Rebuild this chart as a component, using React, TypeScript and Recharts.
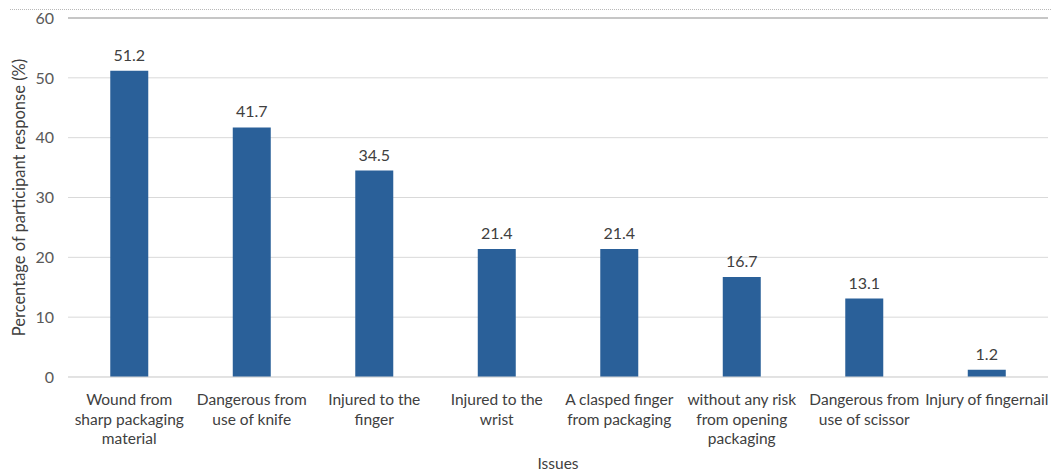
import { BarChart, Bar, XAxis, YAxis, CartesianGrid, LabelList, Label, ReferenceLine } from "recharts";

// Reported packaging-opening issues, % of participants
const issues = [
  "Wound from sharp packaging material",
  "Dangerous from use of knife",
  "Injured to the finger",
  "Injured to the wrist",
  "A clasped finger from packaging",
  "without any risk from opening packaging",
  "Dangerous from use of scissor",
  "Injury of fingernail",
];
const percentages = [51.2, 41.7, 34.5, 21.4, 21.4, 16.7, 13.1, 1.2];
// how each category name wraps under the axis
const tickLines = [
  ["Wound from", "sharp packaging", "material"],
  ["Dangerous from", "use of knife"],
  ["Injured to the", "finger"],
  ["Injured to the", "wrist"],
  ["A clasped finger", "from packaging"],
  ["without any risk", "from opening", "packaging"],
  ["Dangerous from", "use of scissor"],
  ["Injury of fingernail"],
];
const yTicks = [0, 10, 20, 30, 40, 50, 60];
const yMax = 60;

const data = issues.map((issue, i) => ({ issue, pct: percentages[i] }));

const FONT = "Lato, 'Open Sans', sans-serif";

function IssueTick({ x, y, payload }: { x?: number; y?: number; payload?: { index: number } }) {
  const lines = tickLines[payload?.index ?? 0] ?? [];
  return (
    <text x={x} y={y} textAnchor="middle" fill="#404040" fontSize={15.5} fontFamily={FONT}>
      {lines.map((ln, i) => (
        <tspan key={i} x={x} dy={i === 0 ? 20 : 19.5}>
          {ln}
        </tspan>
      ))}
    </text>
  );
}

export default function App() {
  return (
    <div style={{ position: "absolute", left: 0, top: 0, width: 1051, height: 472, background: "#fff" }}>
      <div
        style={{
          position: "absolute",
          left: 10,
          top: 9,
          width: 1041,
          borderTop: "1px dotted #b8b8b8",
        }}
      />
      <BarChart
        width={1051}
        height={472}
        data={data}
        margin={{ top: 18, right: 3, left: 0, bottom: 0 }}
        barCategoryGap="34.5%"
      >
        <CartesianGrid vertical={false} stroke="#d9d9d9" />
        <ReferenceLine y={yMax} stroke="#c6c6c6" strokeWidth={2} />
        <XAxis
          dataKey="issue"
          interval={0}
          tick={<IssueTick />}
          tickLine={false}
          axisLine={{ stroke: "#d9d9d9" }}
          height={95}
        >
          <Label value="Issues" position="insideBottom" offset={3} fill="#404040" fontSize={15.5} fontFamily={FONT} />
        </XAxis>
        <YAxis
          domain={[0, yMax]}
          ticks={yTicks}
          width={68}
          tickLine={false}
          axisLine={false}
          tick={{ fill: "#595959", fontSize: 16, fontFamily: FONT }}
          tickMargin={8}
        >
          <Label
            value="Percentage of participant response (%)"
            angle={-90}
            position="insideLeft"
            offset={19}
            style={{ textAnchor: "middle" }}
            fill="#404040"
            fontSize={16.5}
            fontFamily={FONT}
          />
        </YAxis>
        <Bar dataKey="pct" fill="#2a6099" isAnimationActive={false}>
          <LabelList dataKey="pct" position="top" offset={10} fill="#404040" fontSize={16} fontFamily={FONT} />
        </Bar>
      </BarChart>
    </div>
  );
}
